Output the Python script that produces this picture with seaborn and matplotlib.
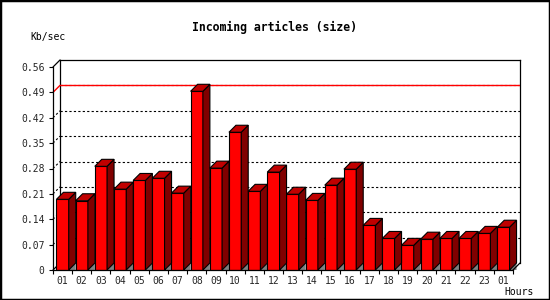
import matplotlib
matplotlib.use("Agg")
import matplotlib.pyplot as plt
import numpy as np
import pandas as pd
import seaborn as sns
from matplotlib.patches import Polygon, Rectangle

# ---- data ----
hours = ["01", "02", "03", "04", "05", "06", "07", "08", "09", "10", "11", "12",
         "13", "14", "15", "16", "17", "18", "19", "20", "21", "22", "23", "01"]
kbps = [0.195, 0.191, 0.286, 0.223, 0.247, 0.253, 0.212, 0.493, 0.281, 0.380, 0.217, 0.270,
        0.209, 0.192, 0.234, 0.278, 0.123, 0.087, 0.068, 0.085, 0.087, 0.087, 0.101, 0.118]
y_ticks = [0, 0.07, 0.14, 0.21, 0.28, 0.35, 0.42, 0.49, 0.56]
y_tick_labels = ["0", "0.07", "0.14", "0.21", "0.28", "0.35", "0.42", "0.49", "0.56"]
max_line = 0.49
title = "Incoming articles (size)"
y_unit = "Kb/sec"
x_unit = "Hours"

sns.set_theme(style="white")
plt.rcParams["font.family"] = ["DejaVu Sans Mono", "DejaVu Sans"]

W, H = 550, 300
L, R, B, T = 53, 513, 270, 67   # front plane in pixels
D = 7                           # 3D depth in pixels
n = len(kbps)
xmin, xmax = -0.5, n - 0.5
ymin, ymax = 0, 0.56
dxu = D / (R - L) * (xmax - xmin)
dyu = D / (B - T) * (ymax - ymin)

fig = plt.figure(figsize=(5.5, 3), dpi=100)
fig.patch.set_facecolor("white")

# back plane
axb = fig.add_axes([(L + D) / W, (H - B + D) / H, (R - L) / W, (B - T) / H])
axb.set_xlim(xmin, xmax)
axb.set_ylim(ymin, ymax)
axb.set_facecolor("none")
for s in ["top", "left", "right"]:
    axb.spines[s].set_visible(True)
    axb.spines[s].set_color("black")
    axb.spines[s].set_linewidth(0.9)
axb.spines["bottom"].set_visible(False)
axb.set_xticks([])
axb.set_yticks([])
for v in y_ticks[1:-1]:
    axb.axhline(v, color="black", lw=0.8, ls=(0, (2, 2)))
axb.axhline(max_line, color="red", lw=1.0, zorder=3)

# front plane
ax = fig.add_axes([L / W, (H - B) / H, (R - L) / W, (B - T) / H])
df = pd.DataFrame({"slot": list(range(n)), "kbps": kbps})
sns.barplot(data=df, x="slot", y="kbps", color="#ff0000", saturation=1, width=0.64,
            edgecolor="black", linewidth=0.8, errorbar=None, ax=ax, zorder=2)
ax.set_facecolor("none")
ax.set_xlim(xmin, xmax)
ax.set_ylim(ymin, ymax)
ax.set_xlabel("")
ax.set_ylabel("")
for s in ["top", "right"]:
    ax.spines[s].set_visible(False)
for s in ["left", "bottom"]:
    ax.spines[s].set_visible(True)
    ax.spines[s].set_color("black")
    ax.spines[s].set_linewidth(0.9)

# 3D faces derived from the drawn bars
for p in list(ax.patches):
    x0, w, h = p.get_x(), p.get_width(), p.get_height()
    x1 = x0 + w
    tri = Polygon([(x1, 0), (x1 + dxu, dyu), (x1 + dxu, 0)], closed=True,
                  facecolor="#808080", edgecolor="none", zorder=1.5, clip_on=False)
    side = Polygon([(x1, 0), (x1, h), (x1 + dxu, h + dyu), (x1 + dxu, dyu)], closed=True,
                   facecolor="#800000", edgecolor="black", lw=0.8, zorder=2.5, clip_on=False)
    top = Polygon([(x0, h), (x0 + dxu, h + dyu), (x1 + dxu, h + dyu), (x1, h)], closed=True,
                  facecolor="#c00000", edgecolor="black", lw=0.8, zorder=2.5, clip_on=False)
    ax.add_patch(tri)
    ax.add_patch(side)
    ax.add_patch(top)

# connecting diagonals between front and back planes
for v in y_ticks:
    if v == max_line:
        kw = dict(color="red", lw=1.0)
    elif v in (y_ticks[0], y_ticks[-1]):
        kw = dict(color="black", lw=0.9)
    else:
        kw = dict(color="black", lw=0.8, ls=(0, (2, 2)))
    ax.plot([xmin, xmin + dxu], [v, v + dyu], clip_on=False, zorder=0.5, **kw)
ax.plot([xmax, xmax + dxu], [0, dyu], color="black", lw=0.9, clip_on=False, zorder=3)

# ticks
ax.set_yticks(y_ticks)
ax.set_yticklabels(y_tick_labels)
ax.set_xticks(range(n))
ax.set_xticklabels(hours)
ax.set_xticks(np.arange(n + 1) - 0.5, minor=True)
ax.tick_params(axis="y", which="major", length=3, width=0.8, color="black",
               direction="out", pad=3, labelsize=7, left=True)
ax.tick_params(axis="x", which="major", length=0, pad=4, labelsize=7)
ax.tick_params(axis="x", which="minor", length=3, width=0.8, color="black",
               direction="out", bottom=True)

# texts
fig.text(274 / W, 1 - 27 / H, title, ha="center", va="center", fontsize=8.3,
         fontweight="bold", color="black")
fig.text(30 / W, 1 - 37 / H, y_unit, ha="left", va="center", fontsize=7, color="black")
fig.text(504 / W, 1 - 292 / H, x_unit, ha="left", va="center", fontsize=7, color="black")

# outer border
fig.patches.append(Rectangle((0, 0), 1, 1, transform=fig.transFigure, fill=False,
                             edgecolor="black", lw=2.5, zorder=10))

fig.savefig("out.png", dpi=100)
